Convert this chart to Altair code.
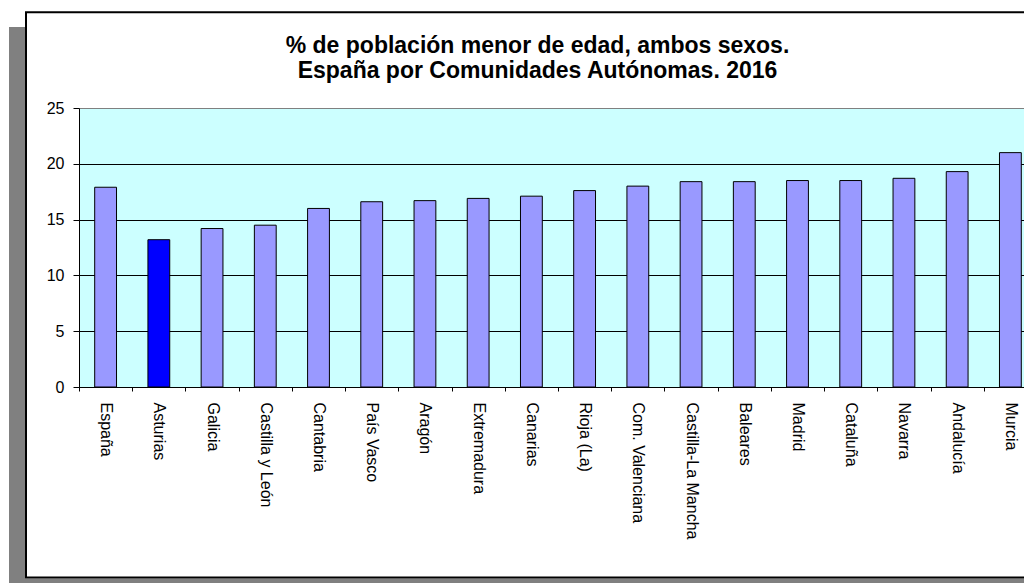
import altair as alt
import pandas as pd

regions = ["España", "Asturias", "Galicia", "Castilla y León", "Cantabria",
           "País Vasco", "Aragón", "Extremadura", "Canarias", "Rioja (La)",
           "Com. Valenciana", "Castilla-La Mancha", "Baleares", "Madrid",
           "Cataluña", "Navarra", "Andalucía", "Murcia"]
values = [17.9, 13.2, 14.2, 14.5, 16.0, 16.6, 16.7, 16.9, 17.1, 17.6,
          18.0, 18.4, 18.4, 18.5, 18.5, 18.7, 19.3, 21.0]
y_ticks = [0, 5, 10, 15, 20, 25]
highlight = "Asturias"
title_lines = ["% de población menor de edad, ambos sexos.",
               "España por Comunidades Autónomas. 2016"]

df = pd.DataFrame({"region": regions, "value": values})
FONT = "Liberation Sans"

one = alt.Data(values=[{"k": 0}])

# decorations: grey shadow strips and the chart frame
shadow_left = alt.Chart(one).mark_rect(color="#808080").encode(
    x=alt.value(-70), x2=alt.value(-54), y=alt.value(-81), y2=alt.value(520))
shadow_bottom = alt.Chart(one).mark_rect(color="#808080").encode(
    x=alt.value(-70), x2=alt.value(1200), y=alt.value(470.5), y2=alt.value(520))
frame = alt.Chart(one).mark_rect(fill="white", fillOpacity=0, stroke="black",
                                 strokeWidth=2).encode(
    x=alt.value(-53), x2=alt.value(1200), y=alt.value(-95.8), y2=alt.value(469.4))

title = alt.Chart(one).mark_text(font=FONT, fontSize=23, fontWeight="bold",
                                 color="black", align="center",
                                 baseline="alphabetic", lineHeight=25).encode(
    x=alt.value(458.5), y=alt.value(-55), text=alt.value(title_lines))

bars = alt.Chart(df).mark_bar(width=alt.RelativeBandSize(0.41), stroke="black",
                              strokeWidth=1).encode(
    x=alt.X("region:N", sort=regions,
            scale=alt.Scale(range=[0, 958], paddingInner=0, paddingOuter=0),
            axis=alt.Axis(title=None, labelAngle=90, tickBand="extent",
                          tickSize=4, tickColor="black", domainColor="black",
                          labelFont=FONT, labelFontSize=16, labelColor="black",
                          labelPadding=11, labelOverlap=False, grid=False,
                          labelLimit=300)),
    y=alt.Y("value:Q", scale=alt.Scale(domain=[0, 25], nice=False),
            axis=alt.Axis(title=None, values=y_ticks, tickSize=6,
                          tickColor="black", domainColor="black",
                          labelFont=FONT, labelFontSize=16, labelColor="black",
                          labelPadding=9, grid=True,
                          gridColor=alt.condition("datum.value == 25",
                                                  alt.value("#808080"),
                                                  alt.value("black")),
                          gridOpacity=1, gridWidth=1)),
    color=alt.condition(alt.datum.region == highlight, alt.value("#0000FF"),
                        alt.value("#9999FF")),
)

chart = alt.layer(shadow_left, shadow_bottom, frame, title, bars).properties(
    width=945, height=279,
    autosize=alt.AutoSizeParams(type="none"),
    padding={"left": 71, "top": 100, "right": 0, "bottom": 196},
    background="white",
).configure_view(fill="#CCFFFF", stroke="transparent")

chart.save("out.html", embed_options={"renderer": "svg", "actions": False})
